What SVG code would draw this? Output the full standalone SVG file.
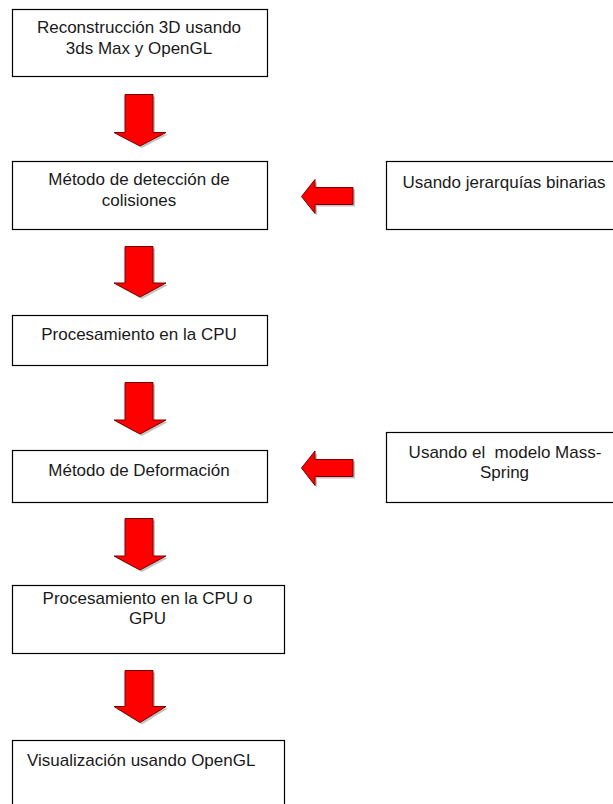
<svg xmlns="http://www.w3.org/2000/svg" width="613" height="804" viewBox="0 0 613 804">
<style>
.box{fill:#fff;stroke:#000;stroke-width:1.2}
.t{font-family:"Liberation Sans",Arial,sans-serif;font-size:17px;fill:#1a1a1a;text-anchor:middle}
.ts{font-family:"Liberation Sans",Arial,sans-serif;font-size:17px;fill:#1a1a1a;text-anchor:start}
.arr{fill:#ff0000;stroke:#7a0000;stroke-width:1;stroke-linejoin:miter}
.arrsh{fill:#888;opacity:0.5}
</style>
<rect width="613" height="804" fill="#fff"/>
<g id="n1">
<rect class="box" x="12.5" y="9.5" width="255" height="67"/>
<text class="t" x="139" y="32.5">Reconstrucción 3D usando</text>
<text class="t" x="139" y="53.5">3ds Max y OpenGL</text>
</g>
<g id="n2">
<rect class="box" x="12.5" y="161.5" width="255" height="68"/>
<text class="t" x="139" y="185">Método de detección de</text>
<text class="t" x="139" y="205.5">colisiones</text>
</g>
<g id="n3">
<rect class="box" x="386.5" y="161.5" width="255" height="68"/>
<text class="t" x="504" y="187.5">Usando jerarquías binarias</text>
</g>
<g id="n4">
<rect class="box" x="12.5" y="315.5" width="255" height="50"/>
<text class="t" x="139" y="340">Procesamiento en la CPU</text>
</g>
<g id="n5">
<rect class="box" x="12.5" y="450.5" width="255" height="52"/>
<text class="t" x="139" y="475.5">Método de Deformación</text>
</g>
<g id="n6">
<rect class="box" x="386.5" y="432.5" width="255" height="70"/>
<text class="t" x="505" y="458" xml:space="preserve">Usando el  modelo Mass-</text>
<text class="t" x="504.5" y="477.5">Spring</text>
</g>
<g id="n7">
<rect class="box" x="12.5" y="585.5" width="272" height="68"/>
<text class="t" x="147.5" y="603.5">Procesamiento en la CPU o</text>
<text class="t" x="147.5" y="623.5">GPU</text>
</g>
<g id="n8">
<rect class="box" x="12.5" y="740.5" width="272" height="80"/>
<text class="ts" x="27" y="766">Visualización usando OpenGL</text>
</g>
<g id="connectors">
<path class="arrsh" d="M127,96.5 H155 V134.5 H168 L142,148 L116,134.5 H127 Z"/>
<path class="arr" d="M125,94.5 H153 V132.5 H166 L140,146 L114,132.5 H125 Z"/>
<path class="arrsh" d="M127,248.5 H155 V285 H168 L142,299 L116,285 H127 Z"/>
<path class="arr" d="M125,246.5 H153 V283 H166 L140,297 L114,283 H125 Z"/>
<path class="arrsh" d="M127,384.5 H155 V422 H168 L142,436 L116,422 H127 Z"/>
<path class="arr" d="M125,382.5 H153 V420 H166 L140,434 L114,420 H125 Z"/>
<path class="arrsh" d="M127,520.5 H155 V558 H168 L142,572 L116,558 H127 Z"/>
<path class="arr" d="M125,518.5 H153 V556 H166 L140,570 L114,556 H125 Z"/>
<path class="arrsh" d="M127,672.5 H155 V708.5 H168 L142,724.5 L116,708.5 H127 Z"/>
<path class="arr" d="M125,670.5 H153 V706.5 H166 L140,722.5 L114,706.5 H125 Z"/>
<path class="arrsh" d="M355,189.5 V206.5 H317 V215.5 L303.5,198.5 L317,181.5 V189.5 Z"/>
<path class="arr" d="M353,187.5 V204.5 H315 V213.5 L301.5,196.5 L315,179.5 V187.5 Z"/>
<path class="arrsh" d="M355,461.5 V478.5 H317 V487.5 L303.5,470 L317,453 V461.5 Z"/>
<path class="arr" d="M353,459.5 V476.5 H315 V485.5 L301.5,468 L315,451 V459.5 Z"/>
</g>
</svg>
